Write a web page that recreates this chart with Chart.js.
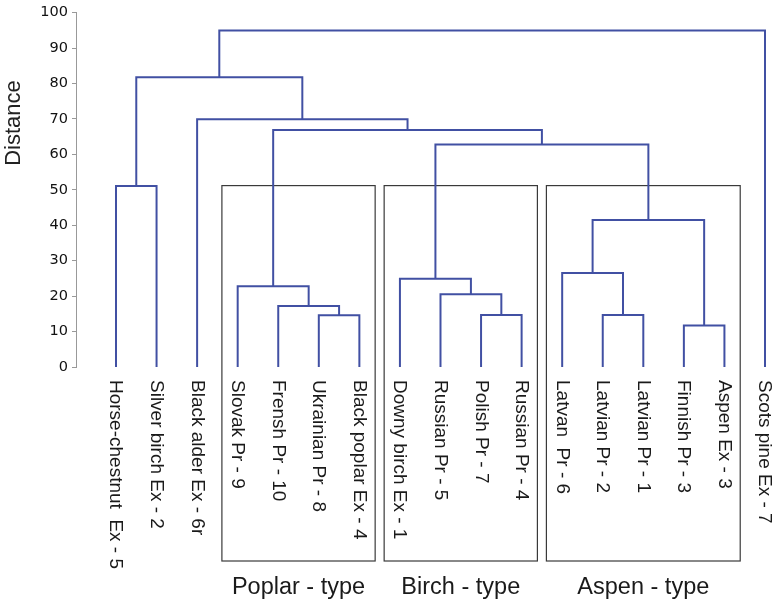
<!DOCTYPE html>
<html>
<head>
<meta charset="utf-8">
<script src="https://cdn.jsdelivr.net/npm/chart.js@4"></script>
<style>
  html, body { margin:0; padding:0; background:#fff; }
  #wrap { width:780px; height:602px; }
</style>
</head>
<body>
<div id="wrap"><canvas id="chart" width="780" height="602"></canvas></div>
<script>
// ---------------- Data ----------------
const leaves = [
    'Horse-chestnut  Ex - 5', 'Silver birch Ex - 2', 'Black alder Ex - 6r',
    'Slovak Pr - 9', 'Frensh Pr - 10', 'Ukrainian Pr - 8', 'Black poplar Ex - 4',
    'Downy birch Ex - 1', 'Russian Pr - 5', 'Polish Pr - 7', 'Russian Pr - 4',
    'Latvan  Pr - 6', 'Latvian Pr - 2', 'Latvian Pr - 1', 'Finnish Pr - 3', 'Aspen Ex - 3',
    'Scots pine Ex - 7'
];

// linkage: ids 0..16 are leaves, merge k creates cluster id 17+k
const mergeLeft   = [5, 4, 3, 9, 8, 7, 14, 12, 11, 25, 0, 22, 19, 2, 27, 31];
const mergeRight  = [6, 17, 18, 10, 20, 21, 15, 13, 24, 23, 1, 26, 28, 29, 30, 16];
const mergeHeight = [14.6, 17.2, 22.8, 14.7, 20.5, 24.9, 11.7, 14.7, 26.5, 41.5, 51.1, 62.8, 66.9, 69.9, 81.8, 95.0];

const groupNames = ['Poplar - type', 'Birch - type', 'Aspen - type'];
const groupFirst = [3, 7, 11];
const groupLast  = [6, 10, 15];
const groupTop   = 51.2;

const yTicks = [0, 10, 20, 30, 40, 50, 60, 70, 80, 90, 100];

// ---------------- Build segments ----------------
const LINE = '#4150a3';
const nodeX = leaves.map((_, i) => i);
const nodeH = leaves.map(() => 0);
const datasets = [];
mergeHeight.forEach((h, k) => {
    const a = mergeLeft[k], b = mergeRight[k];
    datasets.push({
        data: [{x:nodeX[a], y:nodeH[a]}, {x:nodeX[a], y:h}, {x:nodeX[b], y:h}, {x:nodeX[b], y:nodeH[b]}],
        showLine: true, borderColor: LINE, borderWidth: 2, pointRadius: 0, tension: 0, fill: false
    });
    nodeX.push((nodeX[a] + nodeX[b]) / 2);
    nodeH.push(h);
});

// ---------------- Extra drawing: boxes, labels ----------------
const dendroDecor = {
    id: 'dendroDecor',
    beforeDatasetsDraw(chart){
        const {ctx, scales:{x, y}, chartArea} = chart;
        const step = x.getPixelForValue(1) - x.getPixelForValue(0);
        const gap = 4.5;
        ctx.save();
        ctx.strokeStyle = '#3a3a3a';
        ctx.lineWidth = 1.2;
        groupNames.forEach((name, g) => {
            const l = x.getPixelForValue(groupFirst[g] - 0.5) + gap;
            const r = x.getPixelForValue(groupLast[g] + 0.5) - gap;
            const t = y.getPixelForValue(groupTop);
            const b = chartArea.bottom + 194;
            ctx.strokeRect(l, t, r - l, b - t);
        });
        ctx.restore();
    },
    afterDraw(chart){
        const {ctx, scales:{x}, chartArea} = chart;
        ctx.save();
        // leaf labels, reading downward
        ctx.fillStyle = '#1a1a1a';
        ctx.font = '19px "Liberation Sans", Arial, sans-serif';
        ctx.textAlign = 'left';
        ctx.textBaseline = 'alphabetic';
        leaves.forEach((name, i) => {
            ctx.save();
            ctx.translate(x.getPixelForValue(i) - 5.5, chartArea.bottom + 13);
            ctx.rotate(Math.PI / 2);
            ctx.fillText(name, 0, 0);
            ctx.restore();
        });
        // group labels
        ctx.font = '23.5px "Liberation Sans", Arial, sans-serif';
        ctx.textAlign = 'center';
        groupNames.forEach((name, g) => {
            const cx = (x.getPixelForValue(groupFirst[g] - 0.5) + x.getPixelForValue(groupLast[g] + 0.5)) / 2;
            ctx.fillText(name, cx, chartArea.bottom + 227);
        });
        // axis title
        ctx.font = '22px "Liberation Sans", Arial, sans-serif';
        ctx.fillStyle = '#222';
        ctx.textBaseline = 'middle';
        ctx.translate(14, 123);
        ctx.rotate(-Math.PI / 2);
        ctx.fillText('Distance', 0, 0);
        ctx.restore();
    }
};

// ---------------- Chart ----------------
new Chart(document.getElementById('chart'), {
    type: 'scatter',
    data: { datasets },
    options: {
        responsive: false,
        animation: false,
        devicePixelRatio: 1,
        layout: { padding: { top: 8, right: 0, bottom: 235, left: 0 } },
        plugins: { legend: { display: false }, tooltip: { enabled: false } },
        scales: {
            x: { type: 'linear', display: false, min: -0.986, max: 16.37 },
            y: {
                type: 'linear', min: 0, max: 100,
                afterFit(scale){ scale.width = 76; },
                afterBuildTicks(scale){ scale.ticks = yTicks.map(v => ({value: v})); },
                ticks: { color: '#111', padding: 4, font: { family: '"DejaVu Sans", Verdana, sans-serif', size: 14.5 } },
                grid: { drawOnChartArea: false, drawTicks: true, tickLength: 4, color: '#999' },
                border: { color: '#999', width: 1 }
            }
        }
    },
    plugins: [dendroDecor]
});
</script>
</body>
</html>
